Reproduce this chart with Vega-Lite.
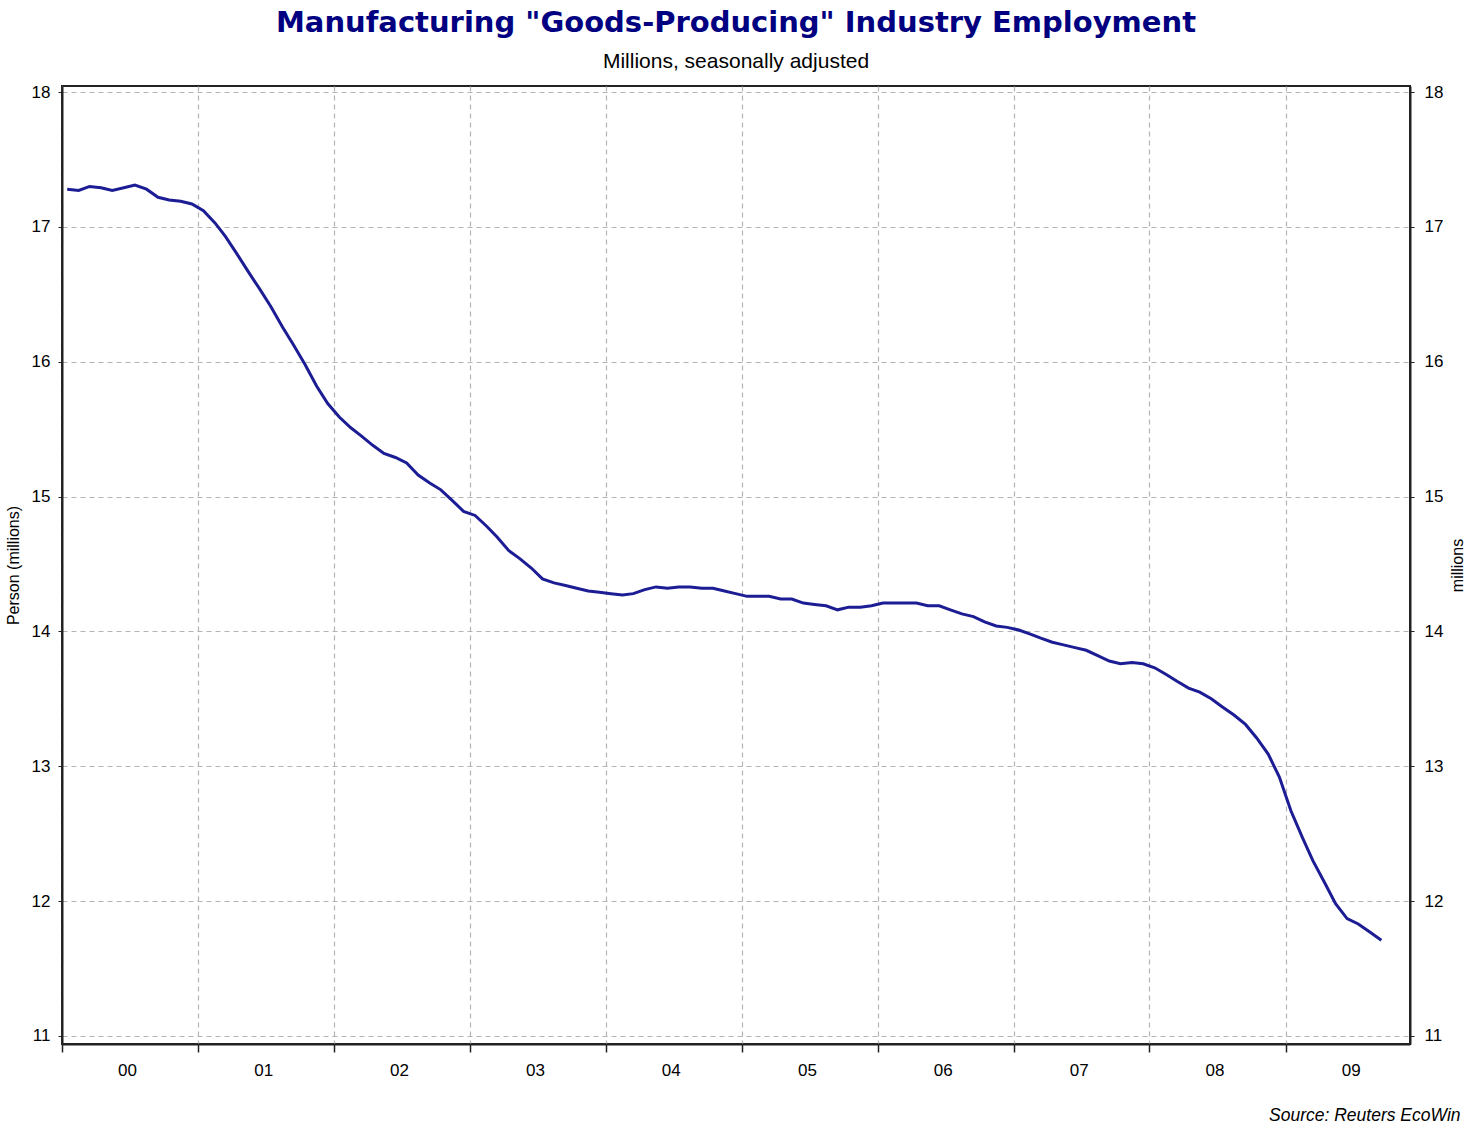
{
  "$schema": "https://vega.github.io/schema/vega-lite/v6.json",
  "autosize": "none",
  "width": 1348,
  "height": 958,
  "padding": {"left": 62, "top": 86, "right": 58, "bottom": 82},
  "background": "white",
  "title": {
    "text": "Manufacturing \"Goods-Producing\" Industry Employment",
    "subtitle": "Millions, seasonally adjusted",
    "anchor": "middle",
    "font": "DejaVu Sans",
    "fontSize": 29,
    "fontWeight": "bold",
    "color": "#000080",
    "subtitleFont": "Liberation Sans",
    "subtitleFontSize": 21,
    "subtitleColor": "black",
    "offset": 11,
    "subtitlePadding": 13
  },
  "config": {
    "view": {"stroke": "#222222", "strokeWidth": 2},
    "axis": {
      "labelFont": "Liberation Sans",
      "labelFontSize": 17,
      "labelColor": "black",
      "titleFont": "Liberation Sans",
      "titleFontSize": 16,
      "titleFontWeight": "normal",
      "titleColor": "black",
      "domainColor": "#222222",
      "domainWidth": 2,
      "tickColor": "#222222",
      "gridColor": "#b4b4b4",
      "gridDash": [5, 4],
      "gridWidth": 1.2
    }
  },
  "data": {
    "values": [
      {"date": "2000-01-15", "value": 17.28},
      {"date": "2000-02-15", "value": 17.27},
      {"date": "2000-03-15", "value": 17.30},
      {"date": "2000-04-15", "value": 17.29},
      {"date": "2000-05-15", "value": 17.27},
      {"date": "2000-06-15", "value": 17.29},
      {"date": "2000-07-15", "value": 17.31},
      {"date": "2000-08-15", "value": 17.28},
      {"date": "2000-09-15", "value": 17.22},
      {"date": "2000-10-15", "value": 17.20},
      {"date": "2000-11-15", "value": 17.19},
      {"date": "2000-12-15", "value": 17.17},
      {"date": "2001-01-15", "value": 17.12},
      {"date": "2001-02-15", "value": 17.03},
      {"date": "2001-03-15", "value": 16.93},
      {"date": "2001-04-15", "value": 16.80},
      {"date": "2001-05-15", "value": 16.67},
      {"date": "2001-06-15", "value": 16.54},
      {"date": "2001-07-15", "value": 16.41},
      {"date": "2001-08-15", "value": 16.26},
      {"date": "2001-09-15", "value": 16.12},
      {"date": "2001-10-15", "value": 15.98},
      {"date": "2001-11-15", "value": 15.82},
      {"date": "2001-12-15", "value": 15.69},
      {"date": "2002-01-15", "value": 15.59},
      {"date": "2002-02-15", "value": 15.51},
      {"date": "2002-03-15", "value": 15.45},
      {"date": "2002-04-15", "value": 15.38},
      {"date": "2002-05-15", "value": 15.32},
      {"date": "2002-06-15", "value": 15.29},
      {"date": "2002-07-15", "value": 15.25},
      {"date": "2002-08-15", "value": 15.16},
      {"date": "2002-09-15", "value": 15.10},
      {"date": "2002-10-15", "value": 15.05},
      {"date": "2002-11-15", "value": 14.97},
      {"date": "2002-12-15", "value": 14.89},
      {"date": "2003-01-15", "value": 14.86},
      {"date": "2003-02-15", "value": 14.78},
      {"date": "2003-03-15", "value": 14.70},
      {"date": "2003-04-15", "value": 14.60},
      {"date": "2003-05-15", "value": 14.54},
      {"date": "2003-06-15", "value": 14.47},
      {"date": "2003-07-15", "value": 14.39},
      {"date": "2003-08-15", "value": 14.36},
      {"date": "2003-09-15", "value": 14.34},
      {"date": "2003-10-15", "value": 14.32},
      {"date": "2003-11-15", "value": 14.30},
      {"date": "2003-12-15", "value": 14.29},
      {"date": "2004-01-15", "value": 14.28},
      {"date": "2004-02-15", "value": 14.27},
      {"date": "2004-03-15", "value": 14.28},
      {"date": "2004-04-15", "value": 14.31},
      {"date": "2004-05-15", "value": 14.33},
      {"date": "2004-06-15", "value": 14.32},
      {"date": "2004-07-15", "value": 14.33},
      {"date": "2004-08-15", "value": 14.33},
      {"date": "2004-09-15", "value": 14.32},
      {"date": "2004-10-15", "value": 14.32},
      {"date": "2004-11-15", "value": 14.30},
      {"date": "2004-12-15", "value": 14.28},
      {"date": "2005-01-15", "value": 14.26},
      {"date": "2005-02-15", "value": 14.26},
      {"date": "2005-03-15", "value": 14.26},
      {"date": "2005-04-15", "value": 14.24},
      {"date": "2005-05-15", "value": 14.24},
      {"date": "2005-06-15", "value": 14.21},
      {"date": "2005-07-15", "value": 14.20},
      {"date": "2005-08-15", "value": 14.19},
      {"date": "2005-09-15", "value": 14.16},
      {"date": "2005-10-15", "value": 14.18},
      {"date": "2005-11-15", "value": 14.18},
      {"date": "2005-12-15", "value": 14.19},
      {"date": "2006-01-15", "value": 14.21},
      {"date": "2006-02-15", "value": 14.21},
      {"date": "2006-03-15", "value": 14.21},
      {"date": "2006-04-15", "value": 14.21},
      {"date": "2006-05-15", "value": 14.19},
      {"date": "2006-06-15", "value": 14.19},
      {"date": "2006-07-15", "value": 14.16},
      {"date": "2006-08-15", "value": 14.13},
      {"date": "2006-09-15", "value": 14.11},
      {"date": "2006-10-15", "value": 14.07},
      {"date": "2006-11-15", "value": 14.04},
      {"date": "2006-12-15", "value": 14.03},
      {"date": "2007-01-15", "value": 14.01},
      {"date": "2007-02-15", "value": 13.98},
      {"date": "2007-03-15", "value": 13.95},
      {"date": "2007-04-15", "value": 13.92},
      {"date": "2007-05-15", "value": 13.90},
      {"date": "2007-06-15", "value": 13.88},
      {"date": "2007-07-15", "value": 13.86},
      {"date": "2007-08-15", "value": 13.82},
      {"date": "2007-09-15", "value": 13.78},
      {"date": "2007-10-15", "value": 13.76},
      {"date": "2007-11-15", "value": 13.77},
      {"date": "2007-12-15", "value": 13.76},
      {"date": "2008-01-15", "value": 13.73},
      {"date": "2008-02-15", "value": 13.68},
      {"date": "2008-03-15", "value": 13.63},
      {"date": "2008-04-15", "value": 13.58},
      {"date": "2008-05-15", "value": 13.55},
      {"date": "2008-06-15", "value": 13.50},
      {"date": "2008-07-15", "value": 13.44},
      {"date": "2008-08-15", "value": 13.38},
      {"date": "2008-09-15", "value": 13.31},
      {"date": "2008-10-15", "value": 13.21},
      {"date": "2008-11-15", "value": 13.09},
      {"date": "2008-12-15", "value": 12.92},
      {"date": "2009-01-15", "value": 12.67},
      {"date": "2009-02-15", "value": 12.47},
      {"date": "2009-03-15", "value": 12.30},
      {"date": "2009-04-15", "value": 12.14},
      {"date": "2009-05-15", "value": 11.98},
      {"date": "2009-06-15", "value": 11.87},
      {"date": "2009-07-15", "value": 11.83},
      {"date": "2009-08-15", "value": 11.77},
      {"date": "2009-09-15", "value": 11.71}
    ]
  },
  "encoding": {
    "x": {
      "field": "date",
      "type": "temporal",
      "scale": {
        "type": "utc",
        "domain": [
          {"year": 2000, "month": 1, "date": 1, "utc": true},
          {"year": 2009, "month": 12, "date": 1, "utc": true}
        ],
        "nice": false
      },
      "axis": {
        "values": [
          {"year": 2000, "month": 1, "date": 1, "utc": true},
          {"year": 2001, "month": 1, "date": 1, "utc": true},
          {"year": 2002, "month": 1, "date": 1, "utc": true},
          {"year": 2003, "month": 1, "date": 1, "utc": true},
          {"year": 2004, "month": 1, "date": 1, "utc": true},
          {"year": 2005, "month": 1, "date": 1, "utc": true},
          {"year": 2006, "month": 1, "date": 1, "utc": true},
          {"year": 2007, "month": 1, "date": 1, "utc": true},
          {"year": 2008, "month": 1, "date": 1, "utc": true},
          {"year": 2009, "month": 1, "date": 1, "utc": true}
        ],
        "labelExpr": "utcFormat(datum.value, '%y')",
        "labelOffset": 65,
        "labelOverlap": false,
        "labelBound": false,
        "labelFlush": false,
        "labelPadding": 10,
        "tickSize": 8,
        "tickWidth": 1.5,
        "grid": true,
        "title": "Source: Reuters EcoWin",
        "titleFontStyle": "italic",
        "titleFontSize": 17.5,
        "titleAlign": "right",
        "titleAnchor": "end",
        "titleX": 1398,
        "titleY": 76,
        "titleBaseline": "alphabetic"
      }
    }
  },
  "layer": [
    {
      "mark": {"type": "line", "color": "#1c1c94", "strokeWidth": 3, "interpolate": "linear"},
      "encoding": {
        "y": {
          "field": "value",
          "type": "quantitative",
          "scale": {"domain": [10.94, 18.045], "nice": false, "zero": false},
          "axis": {
            "orient": "left",
            "values": [11, 12, 13, 14, 15, 16, 17, 18],
            "title": "Person (millions)",
            "titleAngle": 270,
            "titleBaseline": "middle",
            "titleX": -49,
            "tickSize": 4,
            "labelPadding": 8,
            "grid": true
          }
        }
      }
    },
    {
      "mark": {"type": "line", "color": "#1c1c94", "strokeWidth": 3, "opacity": 0},
      "encoding": {
        "y": {
          "field": "value",
          "type": "quantitative",
          "scale": {"domain": [10.94, 18.045], "nice": false, "zero": false},
          "axis": {
            "orient": "right",
            "values": [11, 12, 13, 14, 15, 16, 17, 18],
            "title": "millions",
            "titleAngle": 270,
            "titleBaseline": "middle",
            "titleX": 47,
            "tickSize": 4,
            "labelPadding": 10,
            "grid": false
          }
        }
      }
    }
  ],
  "resolve": {"axis": {"y": "independent"}}
}
